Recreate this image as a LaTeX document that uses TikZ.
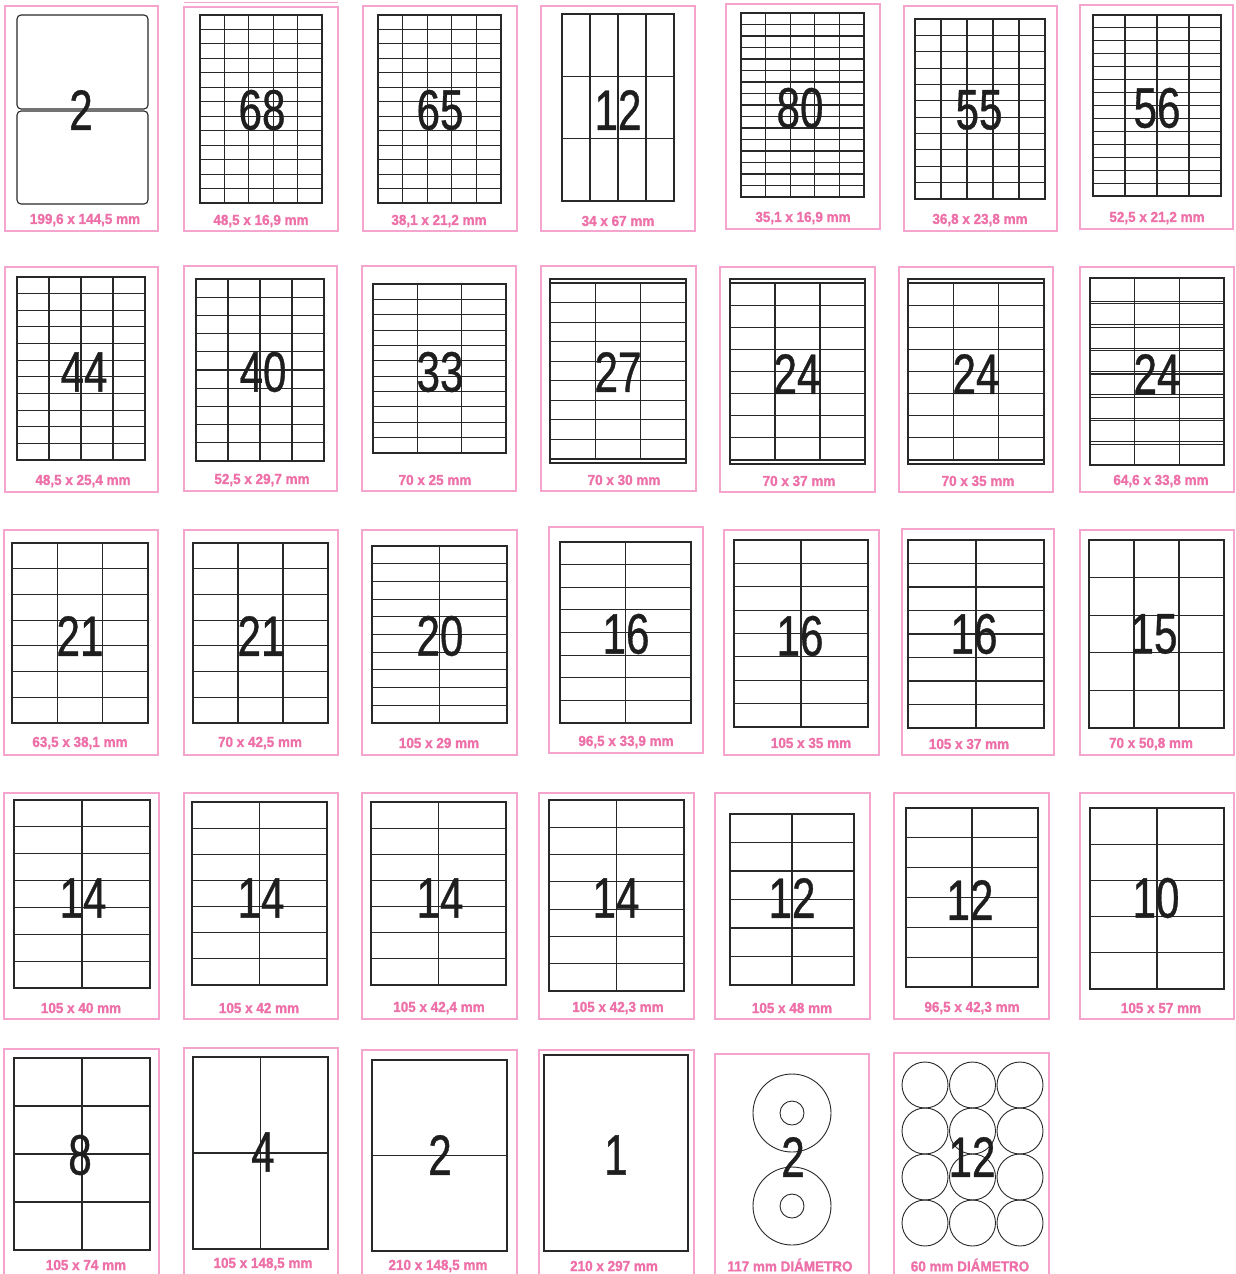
\documentclass[tikz,border=0pt]{standalone}
\usepackage{fontspec}
\newfontfamily\numfont[FakeStretch=0.74,FakeBold=0.6]{Liberation Sans}
\newfontfamily\lblfont[FakeStretch=0.93,FakeBold=1.2]{Liberation Sans Bold}
\definecolor{framepink}{RGB}{245,165,205}
\definecolor{lblpink}{RGB}{238,112,168}
\definecolor{gridgray}{RGB}{40,40,40}
\definecolor{numblack}{RGB}{30,30,30}
\newcommand\labgrid[6]{%
  \draw[gridline] (#1,#2) rectangle (#3,#4);
  \ifnum#5>1 \foreach \i in {2,...,#5}{\draw[gridline] ({#1+(\i-1)*(#3-#1)/#5},#2) -- ({#1+(\i-1)*(#3-#1)/#5},#4);}\fi
  \ifnum#6>1 \foreach \j in {2,...,#6}{\draw[gridline] (#1,{#2+(\j-1)*(#4-#2)/#6}) -- (#3,{#2+(\j-1)*(#4-#2)/#6});}\fi
}
\newcommand\pinkcard[4]{\draw[pinkframe] (#1,#2) rectangle (#3,#4);}
\begin{document}
\begin{tikzpicture}[x=1pt,y=-1pt,
  pinkframe/.style={draw=framepink, line width=1.2pt},
  gridline/.style={draw=gridgray, line width=1.1pt},
  circline/.style={draw=gridgray, line width=0.9pt},
  bignum/.style={font=\numfont\fontsize{57}{57}\selectfont, text=numblack, inner sep=0pt},
  sizelbl/.style={font=\lblfont\fontsize{14.5}{14.5}\selectfont, text=lblpink, inner sep=0pt}]
\useasboundingbox[fill=white] (0,0) rectangle (1236,1274);

% ---------------- Row 1 ----------------
\pinkcard{5}{6}{158}{231}
\draw[gridline, rounded corners=4pt] (17,15) rectangle (148,109);
\draw[gridline, rounded corners=4pt] (17,111) rectangle (148,204);
\node[bignum] (n11) at (81,110) {2};
\node[sizelbl] (l11) at (85,220) {199,6 x 144,5 mm};

\draw[pinkframe] (184,2.5) -- (338,2.5);
\pinkcard{184}{7}{338}{231}
\labgrid{200}{15}{322}{203}{5}{13}
\node[bignum] (n12) at (262,110) {68};
\node[sizelbl] (l12) at (261,221) {48,5 x 16,9 mm};

\pinkcard{363}{6}{517}{231}
\labgrid{378}{15}{501}{203}{5}{13}
\node[bignum] (n13) at (440,110) {65};
\node[sizelbl] (l13) at (439,221) {38,1 x 21,2 mm};

\pinkcard{541}{6}{695}{231}
\labgrid{562}{14}{674}{201}{4}{3}
\node[bignum] (n14) at (618,110) {12};
\node[sizelbl] (l14) at (618,221) {34 x 67 mm};

\pinkcard{726}{4}{880}{229}
\labgrid{741}{13}{864}{197}{5}{16}
\node[bignum] (n15) at (800,108) {80};
\node[sizelbl] (l15) at (803,218) {35,1 x 16,9 mm};

\pinkcard{904}{6}{1057}{231}
\labgrid{915}{19}{1045}{199}{5}{11}
\node[bignum] (n16) at (979,110) {55};
\node[sizelbl] (l16) at (980,220) {36,8 x 23,8 mm};

\pinkcard{1080}{5}{1233}{229}
\labgrid{1093}{15}{1221}{196}{4}{14}
\node[bignum] (n17) at (1157,108) {56};
\node[sizelbl] (l17) at (1157,218) {52,5 x 21,2 mm};

% ---------------- Row 2 ----------------
\pinkcard{5}{267}{158}{492}
\labgrid{17}{277}{145}{460}{4}{11}
\node[bignum] (n21) at (84,372) {44};
\node[sizelbl] (l21) at (83,481) {48,5 x 25,4 mm};

\pinkcard{184}{266}{337}{491}
\labgrid{196}{279}{324}{461}{4}{10}
\node[bignum] (n22) at (263,372) {40};
\node[sizelbl] (l22) at (262,480) {52,5 x 29,7 mm};

\pinkcard{362}{266}{516}{491}
\labgrid{373}{284}{506}{453}{3}{11}
\node[bignum] (n23) at (440,372) {33};
\node[sizelbl] (l23) at (435,480) {70 x 25 mm};

\pinkcard{541}{266}{696}{491}
\draw[gridline] (550,279) rectangle (686,463);
\labgrid{550}{283}{686}{459}{3}{9}
\node[bignum] (n24) at (618,372) {27};
\node[sizelbl] (l24) at (624,480) {70 x 30 mm};

\pinkcard{720}{267}{875}{492}
\draw[gridline] (730,279) rectangle (865,464);
\labgrid{730}{283}{865}{460}{3}{8}
\node[bignum] (n25) at (797,374) {24};
\node[sizelbl] (l25) at (799,481) {70 x 37 mm};

\pinkcard{899}{267}{1053}{492}
\draw[gridline] (908,279) rectangle (1044,464);
\labgrid{908}{283}{1044}{460}{3}{8}
\node[bignum] (n26) at (976,374) {24};
\node[sizelbl] (l26) at (978,481) {70 x 35 mm};

\pinkcard{1080}{267}{1234}{492}
\labgrid{1090}{278}{1224}{465}{3}{8}
\foreach \j in {1,...,7}{\draw[gridline] (1090,{278+\j*23.375+2.5}) -- (1224,{278+\j*23.375+2.5});}
\node[bignum] (n27) at (1157,374) {24};
\node[sizelbl] (l27) at (1161,481) {64,6 x 33,8 mm};

% ---------------- Row 3 ----------------
\pinkcard{4}{530}{158}{755}
\labgrid{12}{543}{148}{723}{3}{7}
\node[bignum] (n31) at (80,636) {21};
\node[sizelbl] (l31) at (80,743) {63,5 x 38,1 mm};

\pinkcard{184}{530}{338}{755}
\labgrid{193}{543}{328}{723}{3}{7}
\node[bignum] (n32) at (261,636) {21};
\node[sizelbl] (l32) at (260,743) {70 x 42,5 mm};

\pinkcard{362}{530}{517}{755}
\labgrid{372}{546}{507}{723}{2}{10}
\node[bignum] (n33) at (440,636) {20};
\node[sizelbl] (l33) at (439,743) {105 x 29 mm};

\pinkcard{549}{527}{703}{753}
\labgrid{560}{542}{691}{723}{2}{8}
\node[bignum] (n34) at (626,634) {16};
\node[sizelbl] (l34) at (626,742) {96,5 x 33,9 mm};

\pinkcard{724}{530}{879}{755}
\labgrid{734}{540}{868}{727}{2}{8}
\node[bignum] (n35) at (800,636) {16};
\node[sizelbl] (l35) at (811,743) {105 x 35 mm};

\pinkcard{902}{529}{1054}{755}
\labgrid{908}{540}{1044}{728}{2}{8}
\node[bignum] (n36) at (974,634) {16};
\node[sizelbl] (l36) at (969,744) {105 x 37 mm};

\pinkcard{1080}{530}{1234}{755}
\labgrid{1089}{540}{1224}{728}{3}{5}
\node[bignum] (n37) at (1154,634) {15};
\node[sizelbl] (l37) at (1151,744) {70 x 50,8 mm};

% ---------------- Row 4 ----------------
\pinkcard{4}{793}{159}{1019}
\labgrid{14}{800}{150}{988}{2}{7}
\node[bignum] (n41) at (83,898) {14};
\node[sizelbl] (l41) at (81,1008) {105 x 40 mm};

\pinkcard{184}{793}{338}{1019}
\labgrid{192}{802}{327}{985}{2}{7}
\node[bignum] (n42) at (261,898) {14};
\node[sizelbl] (l42) at (259,1008) {105 x 42 mm};

\pinkcard{362}{793}{517}{1019}
\labgrid{371}{802}{506}{985}{2}{7}
\node[bignum] (n43) at (440,898) {14};
\node[sizelbl] (l43) at (439,1008) {105 x 42,4 mm};

\pinkcard{539}{793}{694}{1019}
\labgrid{549}{800}{684}{991}{2}{7}
\node[bignum] (n44) at (616,898) {14};
\node[sizelbl] (l44) at (618,1008) {105 x 42,3 mm};

\pinkcard{715}{793}{870}{1019}
\labgrid{730}{814}{854}{985}{2}{6}
\node[bignum] (n45) at (792,898) {12};
\node[sizelbl] (l45) at (792,1008) {105 x 48 mm};

\pinkcard{894}{793}{1049}{1019}
\labgrid{906}{808}{1038}{987}{2}{6}
\node[bignum] (n46) at (970,900) {12};
\node[sizelbl] (l46) at (972,1008) {96,5 x 42,3 mm};

\pinkcard{1080}{793}{1234}{1019}
\labgrid{1090}{808}{1224}{989}{2}{5}
\node[bignum] (n47) at (1156,898) {10};
\node[sizelbl] (l47) at (1161,1008) {105 x 57 mm};

% ---------------- Row 5 ----------------
\pinkcard{4}{1049}{159}{1290}
\labgrid{14}{1058}{150}{1250}{2}{4}
\node[bignum] (n51) at (80,1155) {8};
\node[sizelbl] (l51) at (86,1265) {105 x 74 mm};

\pinkcard{184}{1048}{338}{1290}
\labgrid{193}{1057}{328}{1249}{2}{2}
\node[bignum] (n52) at (263,1152) {4};
\node[sizelbl] (l52) at (263,1264) {105 x 148,5 mm};

\pinkcard{362}{1050}{517}{1290}
\labgrid{372}{1060}{507}{1251}{1}{2}
\node[bignum] (n53) at (440,1155) {2};
\node[sizelbl] (l53) at (438,1266) {210 x 148,5 mm};

\pinkcard{539}{1050}{694}{1290}
\labgrid{544}{1055}{688}{1251}{1}{1}
\node[bignum] (n54) at (616,1155) {1};
\node[sizelbl] (l54) at (614,1266) {210 x 297 mm};

\pinkcard{715}{1054}{869}{1290}
\draw[circline] (792,1113) circle[radius=39pt];
\draw[circline] (792,1113) circle[radius=12pt];
\draw[circline] (792,1206) circle[radius=39pt];
\draw[circline] (792,1206) circle[radius=12pt];
\node[bignum] (n55) at (793,1157) {2};
\node[sizelbl] (l55) at (790,1265) {117 mm DIÁMETRO};

\pinkcard{894}{1053}{1049}{1290}
\foreach \cx in {925,972.5,1020}{\foreach \cy in {1085,1131,1177,1223}{\draw[circline] (\cx,\cy) circle[radius=23pt];}}
\node[bignum] (n56) at (972,1157) {12};
\node[sizelbl] (l56) at (970,1265) {60 mm DIÁMETRO};
\end{tikzpicture}
\end{document}
